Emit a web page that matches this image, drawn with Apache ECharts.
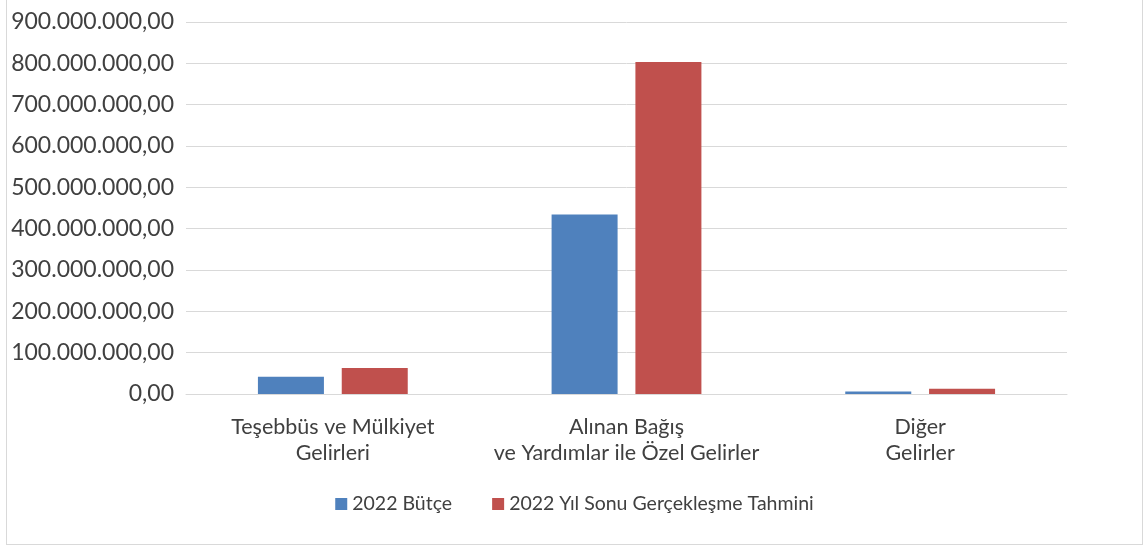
<!DOCTYPE html>
<html>
<head>
<meta charset="utf-8">
<script src="https://cdn.jsdelivr.net/npm/echarts@6/dist/echarts.min.js"></script>
<style>
html,body{margin:0;padding:0;background:#fff;}
#main{position:absolute;left:6px;top:0;width:1137px;height:545px;border:1px solid #d9d9d9;border-top:none;box-sizing:border-box;}
</style>
</head>
<body>
<div id="main"></div>
<script>
var categories = ['Teşebbüs ve Mülkiyet\nGelirleri', 'Alınan Bağış\nve Yardımlar ile Özel Gelirler', 'Diğer\nGelirler'];
var seriesNames = ['2022 Bütçe', '2022 Yıl Sonu Gerçekleşme Tahmini'];
var butce = [42000000, 434000000, 6000000];
var tahmin = [63000000, 803000000, 13000000];

function fmt(v){
	var s = Math.round(v).toString().replace(/\B(?=(\d{3})+(?!\d))/g, '.');
	return s + ',00';
}

var myChart = echarts.init(document.getElementById('main'));
var font = 'Lato, "Noto Sans", sans-serif';
var option = {
	animation: false,
	color: ['#4F81BD', '#C0504D'],
	textStyle: {fontFamily: font},
	legend: {
		data: seriesNames,
		bottom: 25,
		left: 'center',
		itemWidth: 12,
		itemHeight: 12,
		itemGap: 40,
		icon: 'rect',
		textStyle: {fontSize: 19.5, color: '#404040', fontFamily: font}
	},
	grid: {
		left: 179,
		right: 75,
		top: 22,
		bottom: 150
	},
	xAxis: [{
		type: 'category',
		data: categories,
		axisLine: {show: true, lineStyle: {color: '#d9d9d9', width: 1}},
		axisTick: {show: false},
		axisLabel: {
			interval: 0,
			hideOverlap: false,
			fontSize: 21.5,
			color: '#404040',
			lineHeight: 26,
			margin: 20,
			fontFamily: font
		}
	}],
	yAxis: [{
		type: 'value',
		min: 0,
		max: 900000000,
		interval: 100000000,
		axisLine: {show: false},
		axisTick: {show: false},
		splitLine: {lineStyle: {color: '#d9d9d9', width: 1}},
		axisLabel: {fontSize: 23, color: '#404040', margin: 12, formatter: fmt, fontFamily: font}
	}],
	series: [{
		name: seriesNames[0],
		type: 'bar',
		barWidth: 66,
		barGap: '27%',
		data: butce
	}, {
		name: seriesNames[1],
		type: 'bar',
		barWidth: 66,
		barGap: '27%',
		data: tahmin
	}]
};
myChart.setOption(option);
</script>
</body>
</html>
